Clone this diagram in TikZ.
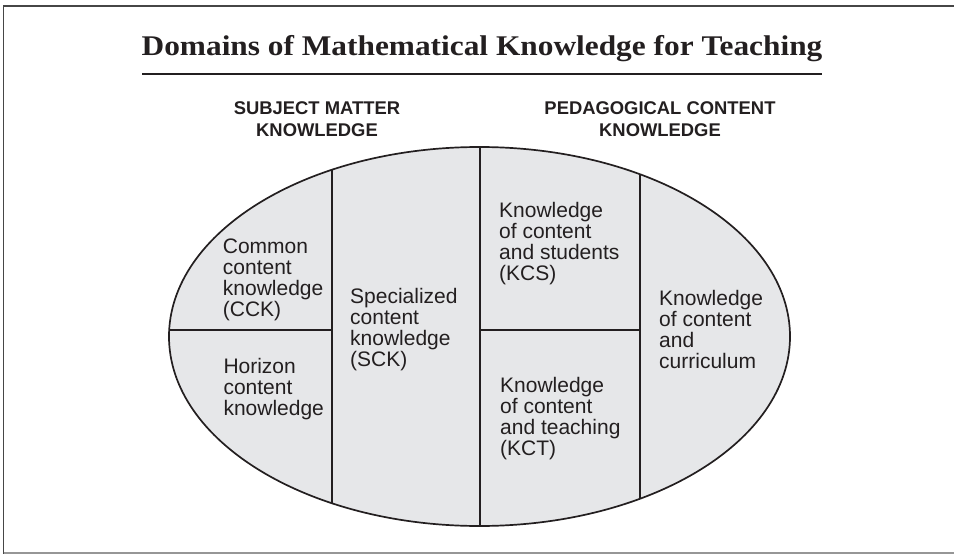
\documentclass[tikz,border=0pt]{standalone}
\usepackage{fontspec}
\setmainfont{Liberation Serif}
\setsansfont{Liberation Sans}
\newfontfamily\titlefont[FakeStretch=1.1]{Liberation Serif}
\definecolor{mkink}{RGB}{35,31,32}
\definecolor{mkfill}{RGB}{230,231,233}
\definecolor{mkframe}{RGB}{70,70,70}
\definecolor{mkframelight}{RGB}{150,150,150}
\usetikzlibrary{shapes.geometric}
\tikzset{
    cell/.style={
        anchor=north west, inner sep=0pt, align=left, text=mkink,
        font=\sffamily\fontsize{21}{21}\selectfont
    },
    heading/.style={
        anchor=north, inner sep=0pt, align=center, text=mkink,
        font=\sffamily\bfseries\fontsize{18.4}{22}\selectfont
    },
    divider/.style={
        draw=mkink, line width=1.3pt
    }
}

\begin{document}
\begin{tikzpicture}[x=1pt,y=-1pt]
\useasboundingbox (0,0) rectangle (954,554);
% frame
\draw[mkframe, line width=1.6pt] (3.5,560) -- (3.5,6) -- (960,6);
\draw[mkframelight, line width=1.2pt] (3.5,553) -- (960,553);
% title and rule
\node[anchor=base, inner sep=0pt, text=mkink,
  font=\titlefont\bfseries\fontsize{28.5}{32}\selectfont] (title) at (482,55)
  {Domains of Mathematical Knowledge for Teaching};
\draw[mkink, line width=1.5pt] (142,74) -- (822,74);
% the two halves
\node[heading] (smk) at (317,101.3) {SUBJECT MATTER\\KNOWLEDGE};
\node[heading] (pck) at (660,101.3) {PEDAGOGICAL CONTENT\\KNOWLEDGE};
% the oval
\node[ellipse, fill=mkfill, minimum width=621pt, minimum height=379pt,
  inner sep=0pt] (domain) at (479.5,336.5) {};
\begin{scope}
  \clip (domain.center) ellipse [x radius=310.5pt, y radius=189.5pt];
  \draw[divider] (332,100) -- (332,600);
  \draw[divider] (480,100) -- (480,600);
  \draw[divider] (640,100) -- (640,600);
  \draw[divider] (100,330) -- (332,330);
  \draw[divider] (480,330) -- (640,330);
\end{scope}
\draw[mkink, line width=1.7pt] (domain.center)
  ellipse [x radius=310.5pt, y radius=189.5pt];
% cells
\node[cell] (cck) at (222.7,239.1) {Common\\content\\knowledge\\(CCK)};
\node[cell] (hck) at (223.3,358.1) {Horizon\\content\\knowledge};
\node[cell] (sck) at (350,288.1) {Specialized\\content\\knowledge\\(SCK)};
\node[cell] (kcs) at (499,201.9) {Knowledge\\of content\\and students\\(KCS)};
\node[cell] (kct) at (500,376.6) {Knowledge\\of content\\and teaching\\(KCT)};
\node[cell] (kcc) at (659,289.9) {Knowledge\\of content\\and\\curriculum};
\end{tikzpicture}
\end{document}
